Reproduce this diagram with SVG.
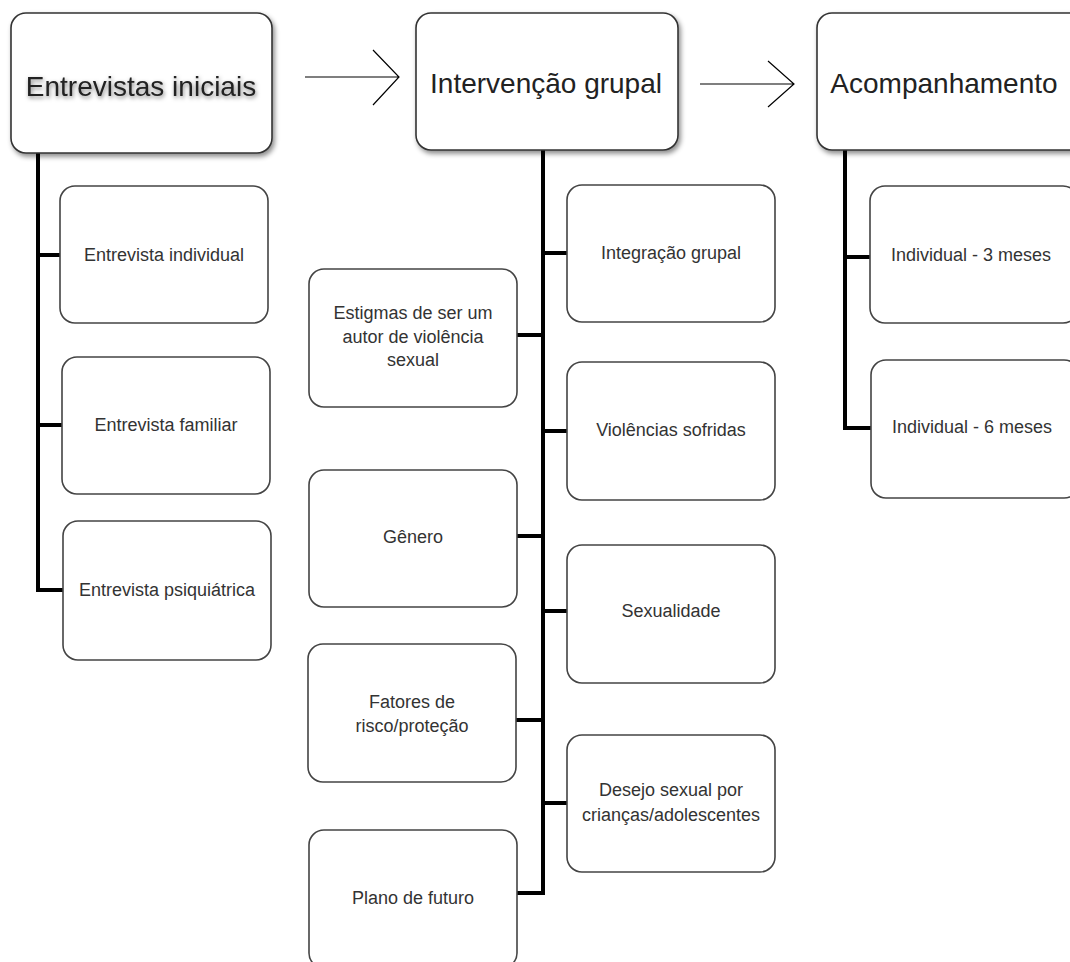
<svg xmlns="http://www.w3.org/2000/svg" width="1070" height="962" viewBox="0 0 1070 962">
<defs>
<filter id="sh" x="-10%" y="-10%" width="125%" height="130%">
<feDropShadow dx="2" dy="3" stdDeviation="2.5" flood-color="#000" flood-opacity="0.45"/>
</filter>
<filter id="tsh" x="-10%" y="-30%" width="120%" height="170%">
<feDropShadow dx="1" dy="2" stdDeviation="2" flood-color="#000" flood-opacity="0.5"/>
</filter>
<style>
.top{fill:#fff;stroke:#333;stroke-width:1.6;filter:url(#sh)}
.box{fill:#fff;stroke:#444;stroke-width:1.6}
.title{font-family:"Liberation Sans",Arial,sans-serif;font-size:28px;fill:#222;text-anchor:middle}
.lbl{font-family:"Liberation Sans",Arial,sans-serif;font-size:18px;fill:#333;text-anchor:middle}
.con{stroke:#000;stroke-width:4;fill:none}
.arr{stroke:#000;stroke-width:1.2;fill:none}
</style>
</defs>
<rect width="1070" height="962" fill="#fff"/>
<g id="connectors">
<path class="con" d="M38,150 V590 M36,255 H62 M36,425 H64 M36,590 H65"/>
<path class="con" d="M543,148 V895 M541,253 H569 M541,431 H569 M541,611 H569 M541,803 H569 M545,335 H515 M545,536 H515 M545,720 H515 M545,893 H515"/>
<path class="con" d="M845,148 V430 M843,257 H872 M843,428 H872"/>
<path class="arr" d="M305,77 H399 M373,50 L399,77 L373,105"/>
<path class="arr" d="M700,84 H794 M768,61 L794,84 L768,107"/>
</g>
<g id="n-entrevistas"><rect class="top" x="11" y="13" width="261" height="140" rx="15"/><text class="title" x="141" y="96" filter="url(#tsh)">Entrevistas iniciais</text></g>
<g id="n-intervencao"><rect class="top" x="416" y="13" width="262" height="137" rx="15"/><text class="title" x="546" y="93">Intervenção grupal</text></g>
<g id="n-acompanhamento"><rect class="top" x="817" y="13" width="270" height="137" rx="15"/><text class="title" x="944" y="93">Acompanhamento</text></g>
<g id="n-ent-individual"><rect class="box" x="60" y="186" width="208" height="137" rx="15"/><text class="lbl" x="164" y="261">Entrevista individual</text></g>
<g id="n-ent-familiar"><rect class="box" x="62" y="357" width="208" height="137" rx="15"/><text class="lbl" x="166" y="431">Entrevista familiar</text></g>
<g id="n-ent-psiq"><rect class="box" x="63" y="521" width="208" height="139" rx="15"/><text class="lbl" x="167" y="596">Entrevista psiquiátrica</text></g>
<g id="n-integracao"><rect class="box" x="567" y="185" width="208" height="137" rx="15"/><text class="lbl" x="671" y="259">Integração grupal</text></g>
<g id="n-violencias"><rect class="box" x="567" y="362" width="208" height="138" rx="15"/><text class="lbl" x="671" y="436">Violências sofridas</text></g>
<g id="n-sexualidade"><rect class="box" x="567" y="545" width="208" height="138" rx="15"/><text class="lbl" x="671" y="617">Sexualidade</text></g>
<g id="n-desejo"><rect class="box" x="567" y="735" width="208" height="137" rx="15"/><text class="lbl" x="671" y="796">Desejo sexual por</text><text class="lbl" x="671" y="821">crianças/adolescentes</text></g>
<g id="n-estigmas"><rect class="box" x="309" y="269" width="208" height="138" rx="15"/><text class="lbl" x="413" y="319">Estigmas de ser um</text><text class="lbl" x="413" y="343">autor de violência</text><text class="lbl" x="413" y="366">sexual</text></g>
<g id="n-genero"><rect class="box" x="309" y="470" width="208" height="137" rx="15"/><text class="lbl" x="413" y="543">Gênero</text></g>
<g id="n-fatores"><rect class="box" x="308" y="644" width="208" height="138" rx="15"/><text class="lbl" x="412" y="708">Fatores de</text><text class="lbl" x="412" y="732">risco/proteção</text></g>
<g id="n-plano"><rect class="box" x="309" y="830" width="208" height="138" rx="15"/><text class="lbl" x="413" y="904">Plano de futuro</text></g>
<g id="n-ind3"><rect class="box" x="870" y="186" width="208" height="137" rx="15"/><text class="lbl" x="971" y="261">Individual - 3 meses</text></g>
<g id="n-ind6"><rect class="box" x="871" y="360" width="208" height="138" rx="15"/><text class="lbl" x="972" y="433">Individual - 6 meses</text></g>
</svg>
